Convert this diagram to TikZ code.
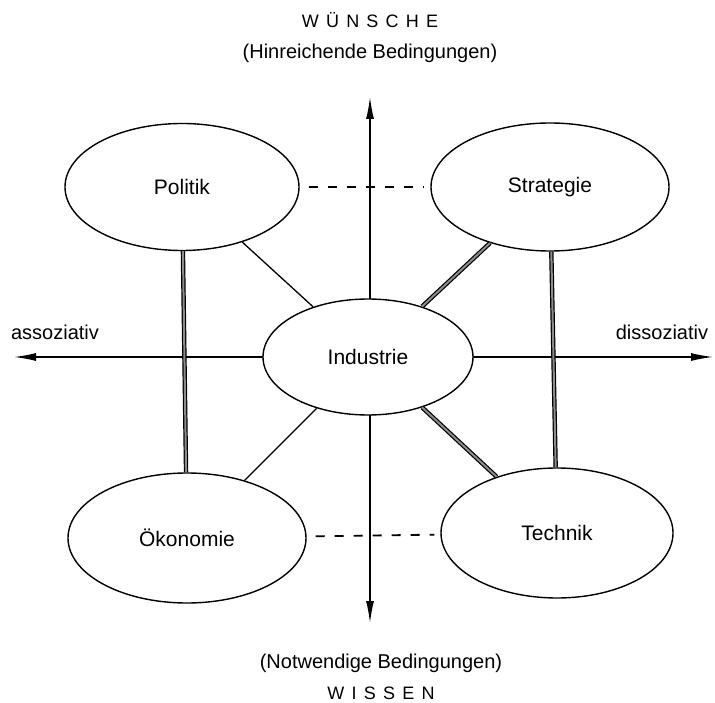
\documentclass[tikz,border=0pt]{standalone}
\usepackage{fontspec}
\setmainfont{Liberation Sans}
\newfontfamily\spacedfont[LetterSpace=40]{Liberation Sans}
\usetikzlibrary{shapes.geometric,arrows.meta,backgrounds}
\begin{document}
\begin{tikzpicture}[x=1pt,y=-1pt,
  oval/.style={ellipse, draw, line width=1.4pt, fill=white, inner sep=0pt, font=\fontsize{21}{24}\selectfont},
  thinlink/.style={line width=1.3pt},
  thicklink/.style={line width=1.2pt, double=black!45, double distance=2pt},
  dashlink/.style={line width=1.8pt, dash pattern=on 9pt off 10pt, shorten <=9pt, shorten >=6pt},
  axis/.style={line width=1.4pt, {Latex[length=22pt,width=8pt]}-{Latex[length=22pt,width=8pt]}},
  lbl/.style={font=\fontsize{20}{23}\selectfont, inner sep=0pt},
  spaced/.style={font=\spacedfont\fontsize{18}{20}\selectfont, inner sep=0pt}]
\useasboundingbox (0,0) rectangle (715,703);
% ellipses
\node[oval, minimum width=234pt, minimum height=127pt] (pol) at (182,187) {Politik};
\node[oval, minimum width=238pt, minimum height=128pt] (str) at (550,187) {Strategie};
\node[oval, minimum width=210pt, minimum height=116pt] (ind) at (368,357) {Industrie};
\node[oval, minimum width=238pt, minimum height=130pt] (oek) at (187,538) {Ökonomie};
\node[oval, minimum width=232pt, minimum height=130pt] (tec) at (557,533) {Technik};
% axes
\coordinate (vt) at (370,97);
\coordinate (vb) at (370,623);
\coordinate (hl) at (14,357);
\coordinate (hr) at (713,357);
\begin{scope}[on background layer]
  \draw[axis] (vt) -- (vb);
  \draw[axis] (hl) -- (hr);
\end{scope}
% labels
\node[spaced] (wu) at (370,20) {WÜNSCHE};
\node[lbl] (hin) at (370,53) {(Hinreichende Bedingungen)};
\node[lbl] (not) at (381,663) {(Notwendige Bedingungen)};
\node[spaced] (wis) at (381,693) {WISSEN};
\node[lbl] (ass) at (55,332) {assoziativ};
\node[lbl] (dis) at (662,332) {dissoziativ};
% connectors
\draw[thinlink] (pol) -- (ind);
\draw[thicklink] (str) -- (ind);
\draw[thinlink] (ind) -- (oek);
\draw[thicklink] (ind) -- (tec);
\draw[thicklink] (pol) -- (oek);
\draw[thicklink] (str) -- (tec);
\draw[dashlink] (pol) -- (str);
\draw[dashlink] (oek) -- (tec);
\end{tikzpicture}
\end{document}
